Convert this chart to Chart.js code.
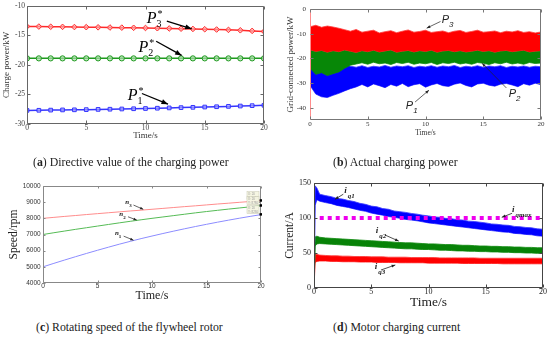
<!DOCTYPE html>
<html><head><meta charset="utf-8">
<script src="https://cdn.jsdelivr.net/npm/chart.js@4.4.0/dist/chart.umd.min.js"></script>
<style>
html,body{margin:0;padding:0;background:#fff;}
body{width:550px;height:338px;position:relative;overflow:hidden;}
canvas{position:absolute;}
.cap{position:absolute;font-family:'Liberation Serif',serif;font-size:11.8px;color:#222;white-space:nowrap;line-height:14px;}
</style></head><body>
<canvas id="ca" width="275" height="140" style="left:0;top:0"></canvas>
<canvas id="cb" width="275" height="140" style="left:275px;top:0"></canvas>
<canvas id="cc" width="275" height="145" style="left:0;top:165px"></canvas>
<canvas id="cd" width="275" height="145" style="left:275px;top:165px"></canvas>
<div class="cap" style="left:33px;top:155px">(<b>a</b>) Directive value of the charging power</div>
<div class="cap" style="left:333px;top:155px">(<b>b</b>) Actual charging power</div>
<div class="cap" style="left:36px;top:320px">(<b>c</b>) Rotating speed of the flywheel rotor</div>
<div class="cap" style="left:333px;top:320px">(<b>d</b>) Motor charging current</div>
<script>
// ---------- (a) directive charging power ----------
const timeA = [0,1,2,3,4,5,6,7,8,9,10,11,12,13,14,15,16,17,18,19,20];
const p3Star = [-13.5,-13.52,-13.55,-13.57,-13.6,-13.62,-13.65,-13.68,-13.7,-13.73,-13.76,-13.8,-13.84,-13.88,-13.92,-13.97,-14.02,-14.08,-14.15,-14.25,-14.35];
const p2Star = [-18.9,-18.9,-18.9,-18.9,-18.9,-18.9,-18.9,-18.9,-18.9,-18.9,-18.9,-18.9,-18.9,-18.9,-18.9,-18.9,-18.9,-18.9,-18.9,-18.9,-18.9];
const p1Star = [-27.7,-27.68,-27.65,-27.62,-27.6,-27.57,-27.53,-27.5,-27.46,-27.42,-27.38,-27.33,-27.28,-27.23,-27.18,-27.13,-27.08,-27.02,-26.96,-26.9,-26.84];
const ticksAX = [0,5,10,15,20];
const ticksAY = [-30,-25,-20,-15,-10];

// ---------- (b) actual charging power (band envelopes) ----------
const timeB = [0,0.5,1,1.5,2,2.5,3,3.5,4,4.5,5,5.5,6,6.5,7,7.5,8,8.5,9,9.5,10,10.5,11,11.5,12,12.5,13,13.5,14,14.5,15,15.5,16,16.5,17,17.5,18,18.5,19,19.5,20];
const p3High = [-7.2,-6.6,-7.4,-6.9,-7.3,-7.8,-8.4,-9.0,-8.3,-9.4,-9.0,-8.6,-9.7,-9.2,-8.8,-9.6,-9.0,-8.5,-9.4,-9.1,-8.6,-9.5,-9.2,-8.9,-9.6,-9.0,-8.7,-9.5,-9.1,-8.6,-9.4,-9.2,-8.9,-9.6,-9.0,-9.3,-8.8,-9.5,-9.2,-9.7,-9.3];
const p3Low = [-16.5,-17.2,-16.8,-17.5,-16.9,-17.3,-16.6,-17.1,-17.6,-16.9,-17.3,-16.7,-17.4,-17.0,-16.6,-17.5,-17.1,-16.8,-17.4,-16.9,-17.2,-16.7,-17.5,-17.0,-16.8,-17.3,-16.9,-17.4,-17.1,-16.7,-17.2,-16.9,-17.5,-17.0,-16.8,-17.3,-17.0,-16.7,-17.4,-17.1,-16.9];
const p2High = [-15,-14.5,-15,-14.6,-15,-14.8,-15,-15.2,-15,-15.3,-15,-15.2,-15,-15.3,-15,-15.2,-15,-15.3,-15,-15.2,-15,-15.3,-15,-15.2,-15,-15.3,-15,-15.2,-15,-15.3,-15,-15.2,-15,-15.3,-15,-15.2,-15,-15.3,-15,-15.2,-15];
const p2Low = [-24.0,-26.5,-25.8,-27.0,-26.2,-25.5,-24.0,-22.8,-22.3,-21.8,-22.4,-21.6,-22.2,-21.9,-22.5,-21.7,-22.1,-21.6,-22.4,-21.9,-22.2,-21.7,-22.5,-21.8,-22.1,-21.6,-22.3,-21.9,-22.4,-21.7,-22.0,-22.5,-21.8,-22.2,-21.6,-22.3,-21.9,-22.4,-21.7,-22.1,-21.9];
const p1High = [-22.0,-21.0,-20.5,-20.8,-21.0,-21.5,-22.5,-23.2,-23.6,-23.0,-23.7,-23.2,-23.5,-22.9,-23.6,-23.1,-23.4,-23.0,-23.7,-23.2,-23.5,-23.0,-23.6,-23.1,-23.4,-22.9,-23.7,-23.2,-23.5,-23.0,-23.6,-23.1,-23.4,-23.0,-23.7,-23.2,-23.5,-23.1,-23.6,-23.2,-23.4];
const p1Low = [-31.0,-34.5,-35.6,-35.9,-35.0,-34.2,-33.2,-32.3,-31.6,-30.6,-31.6,-30.4,-31.1,-31.9,-30.6,-31.3,-30.2,-31.5,-30.7,-30.3,-31.7,-30.8,-30.2,-31.1,-31.4,-30.5,-30.0,-31.0,-31.6,-30.4,-30.1,-30.9,-31.3,-30.5,-30.2,-30.8,-31.5,-30.3,-30.9,-30.1,-30.7];
const ticksBX = [0,5,10,15,20];
const ticksBY = [-40,-30,-20,-10,0];

// ---------- (c) flywheel rotor speed ----------
const timeC = [0,1,2,3,4,5,6,7,8,9,10,11,12,13,14,15,16,17,18,19,20];
const n3Speed = [8000,8060,8120,8175,8235,8290,8345,8400,8455,8505,8560,8615,8670,8725,8775,8830,8885,8935,8990,9040,9090];
const n2Speed = [7000,7110,7215,7320,7420,7520,7620,7720,7815,7910,8000,8085,8170,8255,8340,8420,8495,8570,8640,8710,8780];
const n1Speed = [5000,5215,5425,5630,5830,6025,6215,6400,6575,6745,6905,7060,7210,7355,7495,7630,7760,7885,8005,8120,8230];
const ticksCX = [0,5,10,15,20];
const ticksCY = [4000,5000,6000,7000,8000,9000,10000];

// ---------- (d) motor charging current (band envelopes) ----------
const timeD = [0,0.1,0.25,0.5,1,1.5,2,2.5,3,3.5,4,4.5,5,5.5,6,6.5,7,7.5,8,8.5,9,9.5,10,10.5,11,11.5,12,12.5,13,13.5,14,14.5,15,15.5,16,16.5,17,17.5,18,18.5,19,19.5,20];
const iq1High = [0,146,143,134,132,130.5,128,127,125,123.5,121,119.5,117,116,113.5,112.5,110,109,108,106.5,105.5,104,103,101.5,101,99.5,99,97.5,97,95.5,95,94,93,91.5,91,90,89.5,88,87.5,86.5,86,84.5,84];
const iq1Low = [0,118,126,124,122,120.5,118,116.5,115,113,111,109.5,107,105.5,104,102,101,99.5,98,97,96,94.5,93,92,91,90,89,88,87,86,85,84,83,82,81,80,79.5,78,77.5,76.5,76,74.5,74];
const iq2High = [0,73,74,72.5,71.5,71,70.5,70,69.5,69,68.5,68,67.5,67,66.5,66,65.5,65,64.5,64.5,64,63.5,63,63,62.5,62,62,61.5,61,61,60.5,60,60,59.5,59.5,59,59,58.5,58.5,58,58,57.5,57.5];
const iq2Low = [0,60,63,63.5,63,62.5,62,61.5,61,60.5,60,59.5,59,58.5,58,57.5,57,56.5,56,56,55.5,55,55,54.5,54,54,53.5,53,53,52.5,52.5,52,52,51.5,51.5,51,51,50.5,50.5,50,50,49.5,49.5];
const iq3High = [0,49,48,47,46.5,46,46,45.5,45.5,45,45,45,44.5,44.5,44.5,44,44,44,44,43.5,43.5,43.5,43.5,43.5,43,43,43,43,43,43,43,42.5,42.5,42.5,42.5,42.5,42.5,42.5,42.5,42.5,42.5,42.5,42.5];
const iq3Low = [0,36,38,38.5,38.5,38,38,37.5,37.5,37.5,37,37,37,36.5,36.5,36.5,36.5,36,36,36,36,36,35.5,35.5,35.5,35.5,35.5,35.5,35,35,35,35,35,35,35,34.5,34.5,34.5,34.5,34.5,34.5,34.5,34.5];
const iqmaxTime = [0.5,20];
const iqmaxValue = [100,100];
const ticksDX = [0,5,10,15,20];
const ticksDY = [0,50,100,150];

// ---------- helpers ----------
const pts = (xs, ys) => xs.map((x,i)=>({x:x, y:ys[i]}));
function band(xs, hi, lo, fill, edge){
  return [
    {data:pts(xs,hi), borderColor:edge, backgroundColor:fill, borderWidth:1, fill:'+1', pointRadius:0},
    {data:pts(xs,lo), borderColor:edge, backgroundColor:fill, borderWidth:1, fill:false, pointRadius:0}
  ];
}
function arrow(ctx,x1,y1,x2,y2,head){
  ctx.beginPath(); ctx.moveTo(x1,y1); ctx.lineTo(x2,y2); ctx.stroke();
  const a=Math.atan2(y2-y1,x2-x1);
  ctx.beginPath(); ctx.moveTo(x2,y2);
  ctx.lineTo(x2-head*Math.cos(a-0.38), y2-head*Math.sin(a-0.38));
  ctx.lineTo(x2-head*Math.cos(a+0.38), y2-head*Math.sin(a+0.38));
  ctx.closePath(); ctx.fill();
}
function framePlugin(c){
  return {id:'frame', afterDatasetsDraw(chart){
    const ctx=chart.ctx, a=chart.chartArea, xs=chart.scales.x, ys=chart.scales.y;
    const L=Math.round(a.left)+0.5, R=Math.round(a.right)-0.5, T=Math.round(a.top)+0.5, B=Math.round(a.bottom)-0.5;
    ctx.save(); ctx.lineWidth=1; ctx.strokeStyle=c.color;
    ctx.beginPath(); ctx.moveTo(L,T); ctx.lineTo(R,T); ctx.lineTo(R,B); ctx.lineTo(L,B); ctx.stroke();
    ctx.strokeStyle=c.left||c.color; ctx.beginPath(); ctx.moveTo(L,T); ctx.lineTo(L,B); ctx.stroke();
    ctx.strokeStyle=c.color; ctx.beginPath();
    const tl=c.tick;
    xs.ticks.forEach(t=>{const p=Math.round(xs.getPixelForValue(t.value))+0.5; ctx.moveTo(p,B); ctx.lineTo(p,B-tl); ctx.moveTo(p,T); ctx.lineTo(p,T+tl);});
    ys.ticks.forEach(t=>{const p=Math.round(ys.getPixelForValue(t.value))+0.5; ctx.moveTo(L,p); ctx.lineTo(L+tl,p); ctx.moveTo(R,p); ctx.lineTo(R-tl,p);});
    ctx.stroke(); ctx.restore();
  }};
}
function annotPlugin(c){
  return {id:'annot', afterDraw(chart){
    const ctx=chart.ctx, xs=chart.scales.x, ys=chart.scales.y;
    const X=v=>xs.getPixelForValue(v), Y=v=>ys.getPixelForValue(v);
    ctx.save(); ctx.fillStyle=c.color; ctx.strokeStyle=c.color; ctx.lineWidth=c.lw;
    ctx.textAlign='left'; ctx.textBaseline='alphabetic';
    c.items.forEach(it=>{
      if(it.from) arrow(ctx,X(it.from[0]),Y(it.from[1]),X(it.to[0]),Y(it.to[1]),c.head);
      const x=X(it.at[0]), y=Y(it.at[1]);
      ctx.font=c.font; ctx.fillText(it.base,x,y);
      const w=ctx.measureText(it.base).width;
      ctx.font=c.subFont;
      if(it.sub) ctx.fillText(it.sub,x+w+c.subDx,y+c.subDy);
      if(it.sup){ctx.font=c.supFont||c.subFont; ctx.fillText(it.sup,x+w+c.supDx,y-c.supDy);}
    });
    ctx.restore();
  }};
}
function scales(o){
  const f=(s,fam,st)=>({size:s,family:fam,style:st||'normal',lineHeight:1});
  return {
    x:{type:'linear',min:o.xr[0],max:o.xr[1],
      afterBuildTicks:s=>{s.ticks=o.xt.map(v=>({value:v}));},
      afterFit:s=>{s.height=o.H-o.box[3];},
      grid:{display:false,drawTicks:false},border:{display:false},
      ticks:{font:f(o.tf,o.tfam),color:o.tc,padding:o.xpad,maxRotation:0,autoSkip:false,callback:v=>String(v)},
      title:{display:true,text:o.xtitle,font:f(o.xtf,o.ttfam),color:o.ttc,padding:{top:0,bottom:o.xtpad}}},
    y:{type:'linear',min:o.yr[0],max:o.yr[1],
      afterBuildTicks:s=>{s.ticks=o.yt.map(v=>({value:v}));},
      afterFit:s=>{s.width=o.box[0];},
      grid:{display:false,drawTicks:false},border:{display:false},
      ticks:{font:f(o.tf,o.tfam),color:o.tc,padding:o.ypad,autoSkip:false,callback:v=>String(v)},
      title:{display:true,text:o.ytitle,font:f(o.ytf,o.ttfam),color:o.ttc,padding:{top:o.ytpad,bottom:0}}}
  };
}
function base(o){
  return {responsive:false,animation:false,devicePixelRatio:1,
    layout:{padding:{left:0,top:o.box[1],right:o.W-o.box[2],bottom:0}},
    plugins:{legend:{display:false},tooltip:{enabled:false}},
    elements:{line:{tension:0}},
    scales:scales(o)};
}
const SERIF="'Liberation Serif', serif", SANS="'Liberation Sans', sans-serif";

// ---------- chart (a) ----------
new Chart(document.getElementById('ca'),{
  type:'line',
  data:{datasets:[
    {data:pts(timeA,p3Star),borderColor:'#ff2a2a',borderWidth:1.5,pointStyle:'rectRot',pointRadius:2.8,pointBorderWidth:1,pointBorderColor:'#ff2a2a',pointBackgroundColor:'rgba(255,170,170,0.7)'},
    {data:pts(timeA,p2Star),borderColor:'#1f9a1f',borderWidth:1.5,pointStyle:'circle',pointRadius:2.6,pointBorderWidth:1,pointBorderColor:'#1f9a1f',pointBackgroundColor:'rgba(170,220,170,0.7)'},
    {data:pts(timeA,p1Star),borderColor:'#3535ff',borderWidth:1.5,pointStyle:'rect',pointRadius:2.6,pointBorderWidth:1,pointBorderColor:'#3535ff',pointBackgroundColor:'rgba(170,170,255,0.7)'}
  ]},
  options:base({W:275,H:140,box:[27,5,264,124],xr:[0,20],yr:[-30,-10],xt:ticksAX,yt:ticksAY,
    tf:7.5,tfam:SERIF,tc:'#444',xpad:0,ypad:2,xtitle:'Time/s',ytitle:'Charge power/kW',xtf:9,ytf:9,ttfam:SERIF,ttc:'#333',xtpad:0,ytpad:2.5}),
  plugins:[framePlugin({color:'#666',tick:3}),annotPlugin({color:'#000',lw:1.3,head:7,
    font:"italic 16px 'Liberation Serif'",subFont:"10px 'Liberation Serif'",subDx:0,subDy:4,supDx:1,supDy:6,
    items:[
      {base:'P',sub:'3',sup:'*',at:[10.1,-12.97],from:[11.8,-12.6],to:[13.9,-13.9]},
      {base:'P',sub:'2',sup:'*',at:[9.4,-17.85],from:[10.9,-16.0],to:[13.05,-18.4]},
      {base:'P',sub:'1',sup:'*',at:[8.5,-25.97],from:[9.7,-24.84],to:[11.9,-26.64]}
    ]})]
});

// ---------- chart (b) ----------
new Chart(document.getElementById('cb'),{
  type:'line',
  data:{datasets:[
    ...band(timeB,p3High,p3Low,'#ff0000','rgba(255,60,60,0.8)'),
    ...band(timeB,p2High,p2Low,'#078707','rgba(20,140,20,0.8)'),
    ...band(timeB,p1High,p1Low,'#0000ff','rgba(60,60,255,0.8)')
  ]},
  options:base({W:275,H:140,box:[35,9,266,120],xr:[0,20],yr:[-45,0],xt:ticksBX,yt:ticksBY,
    tf:7,tfam:SERIF,tc:'#333',xpad:0.5,ypad:4,xtitle:'Time/s',ytitle:'Grid-connected power/kW',xtf:7.5,ytf:9,ttfam:SERIF,ttc:'#333',xtpad:3.5,ytpad:11.5}),
  plugins:[framePlugin({color:'#777',left:'#ff8c8c',tick:3}),annotPlugin({color:'#222',lw:0.7,head:4,
    font:"italic 11px 'Liberation Sans'",subFont:"italic 8px 'Liberation Sans'",subDx:0,subDy:4,supDx:0,supDy:0,
    items:[
      {base:'P',sub:'3',at:[11.4,-5.7],from:[11.3,-5.06],to:[10.1,-7.76]},
      {base:'P',sub:'1',at:[8.3,-40.4],from:[9.1,-37.7],to:[10.3,-32.9]},
      {base:'P',sub:'2',at:[17.2,-35.7],from:[17.0,-32],to:[14.9,-22.0]}
    ]})]
});

// ---------- chart (c) ----------
const tipsPlugin = {id:'tips', afterDraw(chart){
  const ctx=chart.ctx;
  ctx.save();
  chart.data.datasets.forEach((ds,i)=>{
    const el=chart.getDatasetMeta(i).data[ds.data.length-1];
    const px=el.x, py=el.y;
    ctx.fillStyle='rgba(245,245,225,0.95)'; ctx.strokeStyle='#c8c8b0'; ctx.lineWidth=0.5;
    ctx.fillRect(px-14,py-9,12,8); ctx.strokeRect(px-14,py-9,12,8);
    ctx.fillStyle='#999'; ctx.font="3px 'Liberation Sans'"; ctx.textBaseline='alphabetic';
    ctx.fillText('X: '+ds.data[ds.data.length-1].x,px-13,py-5.5);
    ctx.fillText('Y: '+ds.data[ds.data.length-1].y,px-13,py-2);
    ctx.fillStyle='#000'; ctx.fillRect(px-1.5,py-1.5,2.5,2.5);
  });
  ctx.restore();
}};
new Chart(document.getElementById('cc'),{
  type:'line',
  data:{datasets:[
    {data:pts(timeC,n3Speed),borderColor:'#ff8c8c',borderWidth:1,pointRadius:0},
    {data:pts(timeC,n2Speed),borderColor:'#55bb55',borderWidth:1,pointRadius:0},
    {data:pts(timeC,n1Speed),borderColor:'#8c8cff',borderWidth:1,pointRadius:0}
  ]},
  options:base({W:275,H:145,box:[43,21,261,118],xr:[0,20],yr:[4000,10000],xt:ticksCX,yt:ticksCY,
    tf:6.5,tfam:SANS,tc:'#333',xpad:0,ypad:2.3,xtitle:'Time/s',ytitle:'Speed/rpm',xtf:12,ytf:11.5,ttfam:SERIF,ttc:'#222',xtpad:8,ytpad:8.3}),
  plugins:[framePlugin({color:'#888',tick:2}),tipsPlugin,annotPlugin({color:'#222',lw:0.7,head:3.5,
    font:"bold italic 7px 'Liberation Serif'",subFont:"bold 5px 'Liberation Serif'",subDx:0,subDy:3,supDx:0,supDy:0,
    items:[
      {base:'n',sub:'3',at:[7.55,8883],from:[8.3,8821],to:[9.2,8555]},
      {base:'n',sub:'2',at:[7.0,8139],from:[7.8,8097],to:[8.6,7891]},
      {base:'n',sub:'1',at:[6.6,6940],from:[7.4,6898],to:[8.3,6650]}
    ]})]
});

// ---------- chart (d) ----------
new Chart(document.getElementById('cd'),{
  type:'line',
  data:{datasets:[
    {data:pts(iqmaxTime,iqmaxValue),borderColor:'#ee00ee',borderWidth:4,borderDash:[4,4],borderCapStyle:'butt',pointRadius:0,fill:false},
    ...band(timeD,iq1High,iq1Low,'#0000ff','rgba(60,60,255,0.85)'),
    ...band(timeD,iq2High,iq2Low,'#078207','rgba(20,140,20,0.85)'),
    ...band(timeD,iq3High,iq3Low,'#ff0000','rgba(255,60,60,0.85)')
  ]},
  options:base({W:275,H:145,box:[39,18,268,123],xr:[0,20],yr:[0,150],xt:ticksDX,yt:ticksDY,
    tf:8,tfam:SERIF,tc:'#222',xpad:0,ypad:3,xtitle:'Time/s',ytitle:'Current/A',xtf:13.5,ytf:11.5,ttfam:SERIF,ttc:'#222',xtpad:0.5,ytpad:9.3}),
  plugins:[framePlugin({color:'#444',tick:3}),annotPlugin({color:'#222',lw:0.8,head:4,
    font:"bold italic 9px 'Liberation Serif'",subFont:"bold italic 7px 'Liberation Serif'",subDx:1,subDy:5,supDx:0,supDy:0,
    items:[
      {base:'i',sub:'q1',at:[2.65,136],from:[2.56,134],to:[1.83,126.7]},
      {base:'i',sub:'qmax',at:[17.3,109],from:[17.3,106.7],to:[16.4,101]},
      {base:'i',sub:'q2',at:[5.4,79],from:[6.2,75.7],to:[7.4,67]},
      {base:'i',sub:'q3',at:[5.3,26.7],from:[5.85,25.7],to:[7.1,32.9]}
    ]})]
});
</script>
</body></html>
